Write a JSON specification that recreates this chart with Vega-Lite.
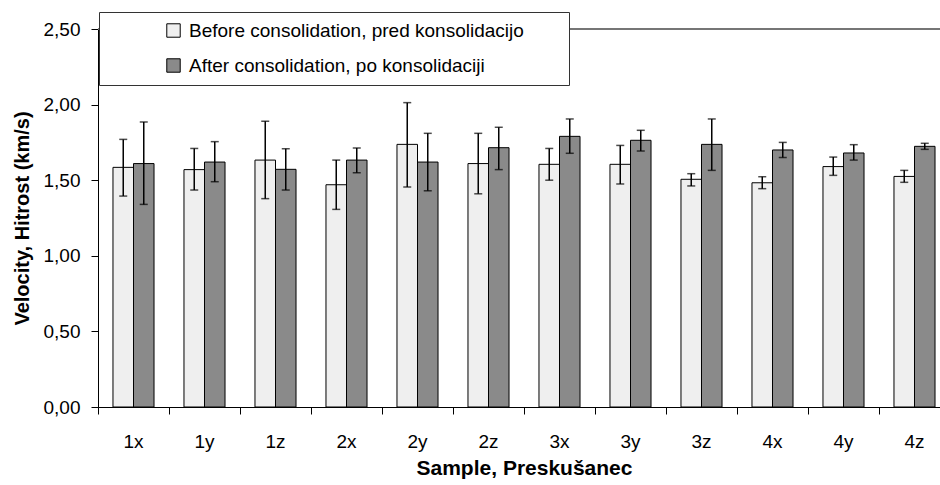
{
  "$schema": "https://vega.github.io/schema/vega-lite/v6.json",
  "width": 852,
  "height": 378,
  "padding": {"left": 12, "top": 11, "right": 0, "bottom": 5},
  "background": "white",
  "config": {
    "view": {"stroke": null},
    "font": "Liberation Sans"
  },
  "data": {
    "values": [
      {"sample": "1x", "series": "Before consolidation, pred konsolidacijo", "value": 1.585, "lo": 1.395, "hi": 1.77},
      {"sample": "1x", "series": "After consolidation, po konsolidaciji", "value": 1.61, "lo": 1.34, "hi": 1.885},
      {"sample": "1y", "series": "Before consolidation, pred konsolidacijo", "value": 1.57, "lo": 1.435, "hi": 1.71},
      {"sample": "1y", "series": "After consolidation, po konsolidaciji", "value": 1.62, "lo": 1.49, "hi": 1.755},
      {"sample": "1z", "series": "Before consolidation, pred konsolidacijo", "value": 1.633, "lo": 1.378, "hi": 1.89},
      {"sample": "1z", "series": "After consolidation, po konsolidaciji", "value": 1.572, "lo": 1.435, "hi": 1.708},
      {"sample": "2x", "series": "Before consolidation, pred konsolidacijo", "value": 1.47, "lo": 1.307, "hi": 1.633},
      {"sample": "2x", "series": "After consolidation, po konsolidaciji", "value": 1.633, "lo": 1.55, "hi": 1.713},
      {"sample": "2y", "series": "Before consolidation, pred konsolidacijo", "value": 1.737, "lo": 1.455, "hi": 2.013},
      {"sample": "2y", "series": "After consolidation, po konsolidaciji", "value": 1.62, "lo": 1.43, "hi": 1.81},
      {"sample": "2z", "series": "Before consolidation, pred konsolidacijo", "value": 1.61, "lo": 1.41, "hi": 1.81},
      {"sample": "2z", "series": "After consolidation, po konsolidaciji", "value": 1.715, "lo": 1.57, "hi": 1.85},
      {"sample": "3x", "series": "Before consolidation, pred konsolidacijo", "value": 1.605, "lo": 1.5, "hi": 1.71},
      {"sample": "3x", "series": "After consolidation, po konsolidaciji", "value": 1.79, "lo": 1.678, "hi": 1.905},
      {"sample": "3y", "series": "Before consolidation, pred konsolidacijo", "value": 1.605, "lo": 1.475, "hi": 1.73},
      {"sample": "3y", "series": "After consolidation, po konsolidaciji", "value": 1.764, "lo": 1.693, "hi": 1.83},
      {"sample": "3z", "series": "Before consolidation, pred konsolidacijo", "value": 1.506, "lo": 1.462, "hi": 1.543},
      {"sample": "3z", "series": "After consolidation, po konsolidaciji", "value": 1.737, "lo": 1.565, "hi": 1.905},
      {"sample": "4x", "series": "Before consolidation, pred konsolidacijo", "value": 1.483, "lo": 1.444, "hi": 1.523},
      {"sample": "4x", "series": "After consolidation, po konsolidaciji", "value": 1.70, "lo": 1.65, "hi": 1.75},
      {"sample": "4y", "series": "Before consolidation, pred konsolidacijo", "value": 1.59, "lo": 1.532, "hi": 1.653},
      {"sample": "4y", "series": "After consolidation, po konsolidaciji", "value": 1.68, "lo": 1.633, "hi": 1.735},
      {"sample": "4z", "series": "Before consolidation, pred konsolidacijo", "value": 1.525, "lo": 1.486, "hi": 1.565},
      {"sample": "4z", "series": "After consolidation, po konsolidaciji", "value": 1.724, "lo": 1.704, "hi": 1.744}
    ]
  },
  "layer": [
    {
      "mark": {"type": "rule", "color": "#777777", "strokeWidth": 1},
      "encoding": {"y": {"datum": 2.5, "type": "quantitative"}}
    },
    {
      "mark": {"type": "bar", "stroke": "black", "strokeWidth": 1},
      "encoding": {
        "x": {
          "field": "sample",
          "type": "nominal",
          "sort": null,
          "scale": {"paddingInner": 0, "paddingOuter": 0},
          "axis": {
            "title": "Sample, Preskušanec",
            "titleFont": "Liberation Sans",
            "titleFontSize": 21,
            "titleFontWeight": "bold",
            "titleColor": "black",
            "titlePadding": 6,
            "labelFont": "Liberation Sans",
            "labelFontSize": 19,
            "labelColor": "black",
            "labelAngle": 0,
            "labelPadding": 18,
            "tickSize": 7,
            "tickColor": "black",
            "domainColor": "black",
            "bandPosition": 0,
            "grid": false
          }
        },
        "xOffset": {
          "field": "series",
          "type": "nominal",
          "sort": ["Before consolidation, pred konsolidacijo", "After consolidation, po konsolidaciji"],
          "scale": {"paddingInner": 0, "paddingOuter": 0.73}
        },
        "y": {
          "field": "value",
          "type": "quantitative",
          "scale": {"domain": [0, 2.5], "nice": false},
          "axis": {
            "title": "Velocity, Hitrost (km/s)",
            "titleFont": "Liberation Sans",
            "titleFontSize": 20,
            "titleFontWeight": "bold",
            "titleColor": "black",
            "titlePadding": 11,
            "labelFont": "Liberation Sans",
            "labelFontSize": 19,
            "labelColor": "black",
            "labelPadding": 11,
            "labelExpr": "replace(format(datum.value, '.2f'), '.', ',')",
            "values": [0, 0.5, 1, 1.5, 2, 2.5],
            "tickSize": 7,
            "tickColor": "black",
            "domainColor": "black",
            "grid": false
          }
        },
        "fill": {
          "field": "series",
          "type": "nominal",
          "sort": ["Before consolidation, pred konsolidacijo", "After consolidation, po konsolidaciji"],
          "scale": {"range": ["#efefef", "#8a8a8a"]},
          "legend": {
            "title": "\u00a0",
            "titleOrient": "right",
            "titlePadding": 36,
            "titleFontSize": 19,
            "orient": "none",
            "legendX": 1,
            "legendY": -17,
            "direction": "vertical",
            "fillColor": "white",
            "strokeColor": "#333333",
            "padding": 9,
            "symbolType": "square",
            "symbolSize": 180,
            "symbolStrokeColor": "black",
            "symbolStrokeWidth": 1,
            "symbolOffset": 56,
            "labelFont": "Liberation Sans",
            "labelFontSize": 19,
            "labelColor": "black",
            "labelOffset": 6,
            "labelLimit": 0,
            "rowPadding": 15
          }
        }
      }
    },
    {
      "mark": {"type": "rule", "color": "black", "strokeWidth": 1.5},
      "encoding": {
        "x": {"field": "sample", "type": "nominal", "sort": null},
        "xOffset": {"field": "series", "type": "nominal", "sort": ["Before consolidation, pred konsolidacijo", "After consolidation, po konsolidaciji"]},
        "y": {"field": "lo", "type": "quantitative"},
        "y2": {"field": "hi"}
      }
    },
    {
      "mark": {"type": "tick", "color": "black", "thickness": 1.5, "size": 8},
      "encoding": {
        "x": {"field": "sample", "type": "nominal", "sort": null},
        "xOffset": {"field": "series", "type": "nominal", "sort": ["Before consolidation, pred konsolidacijo", "After consolidation, po konsolidaciji"]},
        "y": {"field": "lo", "type": "quantitative"}
      }
    },
    {
      "mark": {"type": "tick", "color": "black", "thickness": 1.5, "size": 8},
      "encoding": {
        "x": {"field": "sample", "type": "nominal", "sort": null},
        "xOffset": {"field": "series", "type": "nominal", "sort": ["Before consolidation, pred konsolidacijo", "After consolidation, po konsolidaciji"]},
        "y": {"field": "hi", "type": "quantitative"}
      }
    }
  ]
}
